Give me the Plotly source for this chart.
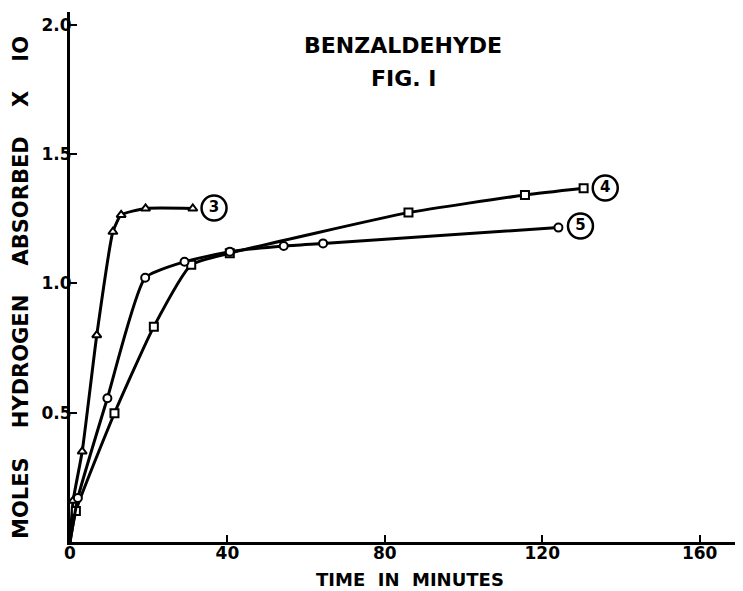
import plotly.graph_objects as go

# Curve 3 (triangles)
t3 = [0, 0.8, 3.1, 6.8, 10.9, 13.0, 19.2, 31.2]
y3 = [0, 0.16, 0.35, 0.80, 1.20, 1.265, 1.29, 1.29]
# Curve 4 (squares)
t4 = [0, 1.5, 11.3, 21.3, 30.8, 40.6, 86.0, 115.6, 130.5]
y4 = [0, 0.12, 0.498, 0.833, 1.072, 1.117, 1.274, 1.342, 1.368]
# Curve 5 (circles)
t5 = [0, 2.0, 9.5, 19.1, 29.1, 40.6, 54.3, 64.3, 124.1]
y5 = [0, 0.17, 0.556, 1.022, 1.084, 1.123, 1.145, 1.155, 1.216]

curve_labels = ["3", "4", "5"]
label_t = [36.6, 136.0, 129.7]
label_y = [1.292, 1.369, 1.222]

x_ticks = [0, 40, 80, 120, 160]
y_ticks = [0.5, 1.0, 1.5, 2.0]

FONT = "DejaVu Sans"
W, H = 735, 583
L, T, PW, PH = 62, 4, 673, 530
OFF = 8  # page body margin


def paper(px, py):
    fx, fy = px - OFF, py - OFF
    return (fx - L) / PW, 1 - (fy - T) / PH


fig = go.Figure()


def add_curve(t, y, sym):
    fig.add_trace(go.Scatter(
        x=t, y=y, mode="lines",
        line=dict(color="black", width=3, shape="spline", smoothing=0.5),
        hoverinfo="skip", showlegend=False))
    fig.add_trace(go.Scatter(
        x=t[1:], y=y[1:], mode="markers",
        marker=dict(symbol=sym, size=8, color="white",
                    line=dict(color="black", width=2)),
        showlegend=False))


add_curve(t3, y3, "triangle-up")
add_curve(t4, y4, "square")
add_curve(t5, y5, "circle")

fig.add_trace(go.Scatter(
    x=label_t, y=label_y, mode="markers+text", text=curve_labels,
    textposition="middle center",
    textfont=dict(family=FONT, size=15, color="black", weight="bold"),
    marker=dict(symbol="circle-open", size=25, color="black",
                line=dict(color="black", width=2.5)),
    showlegend=False, cliponaxis=False))

fig.update_xaxes(
    range=[0, 171], tickvals=x_ticks, ticktext=[str(v) for v in x_ticks],
    showgrid=False, zeroline=False, showline=True, linecolor="black",
    linewidth=3, ticks="inside", ticklen=7, tickwidth=2, tickcolor="black",
    ticklabelstandoff=-6,
    tickfont=dict(family=FONT, size=17, color="black", weight="bold"))
fig.update_yaxes(
    range=[0, 2.05], tickvals=y_ticks, ticktext=["0.5", "1.0", "1.5", "2.0"],
    showgrid=False, zeroline=False, showline=True, linecolor="black",
    linewidth=3, ticks="inside", ticklen=7, tickwidth=2, tickcolor="black",
    ticklabelstandoff=-8,
    tickfont=dict(family=FONT, size=17, color="black", weight="bold"))

NB = "\u00a0"
texts = [
    ("BENZALDEHYDE", 403, 46, 22, 0),
    ("FIG." + NB + "I", 403, 79, 22, 0),
    ("TIME" + NB * 2 + "IN" + NB * 2 + "MINUTES", 410, 579, 18, 0),
    ((NB * 4).join(["MOLES", "HYDROGEN", "ABSORBED", "X", "IO"]), 21, 288, 21, -90),
]
for txt, px, py, size, ang in texts:
    ax, ay = paper(px, py)
    fig.add_annotation(text=txt, xref="paper", yref="paper", x=ax, y=ay,
                       textangle=ang, showarrow=False,
                       xanchor="center", yanchor="middle",
                       font=dict(family=FONT, size=size, color="black", weight="bold"))

fig.update_layout(
    width=W, height=H,
    margin=dict(l=L, r=W - L - PW, t=T, b=H - T - PH),
    plot_bgcolor="white", paper_bgcolor="white",
)

fig.write_html("out.html")
